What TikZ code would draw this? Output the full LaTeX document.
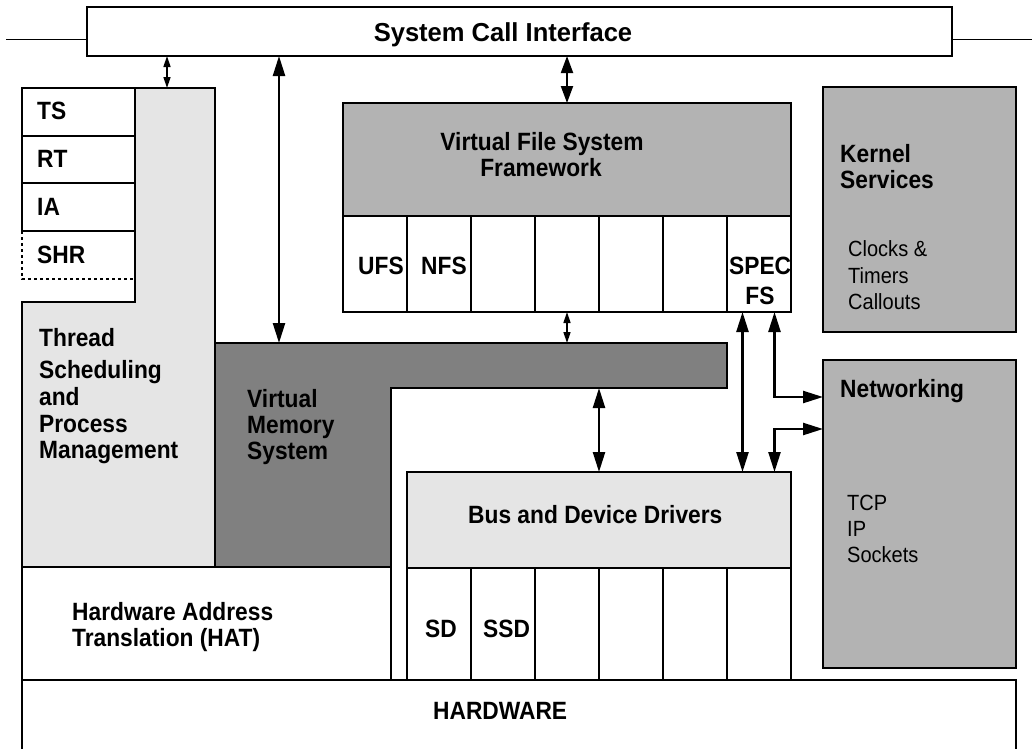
\documentclass[tikz,border=0pt]{standalone}
\usepackage{fontspec}
\setmainfont{Liberation Sans}[FakeStretch=0.91]
\usetikzlibrary{arrows.meta}

\definecolor{midgray}{HTML}{B3B3B3}
\definecolor{darkgray}{HTML}{808080}
\definecolor{lightgray}{HTML}{E5E5E5}

\newcommand\boldtxt{\fontsize{25}{27}\selectfont\bfseries}
\newcommand\plaintxt{\fontsize{22}{26}\selectfont}

\begin{document}
\begin{tikzpicture}[x=1pt,y=-1pt,
  box/.style={draw, line width=1.2pt, anchor=north west, inner sep=0pt, outer sep=0pt, fill=white},
  cell/.style={box, minimum width=64pt},
  lbl/.style={anchor=base west, inner sep=0pt, font=\boldtxt},
  clbl/.style={anchor=base, inner sep=0pt, font=\boldtxt},
  plbl/.style={anchor=base west, inner sep=0pt, font=\plaintxt},
  bigarr/.style={line width=2.4pt, {Triangle[length=20pt,width=12pt]}-{Triangle[length=20pt,width=12pt]}},
  midarr/.style={line width=2pt, {Triangle[length=17pt,width=12pt]}-{Triangle[length=17pt,width=12pt]}},
  smallarr/.style={line width=1.5pt, {Triangle[length=11pt,width=7pt]}-{Triangle[length=11pt,width=7pt]}}]

\clip (0,0) rectangle (1034,748);
\fill[white] (0,0) rectangle (1034,748);

% hardware and address translation layers
\node[box, minimum width=994pt, minimum height=80pt] (hw) at (22,680) {};
\node[box, minimum width=369pt, minimum height=113pt] (hat) at (22,567) {};

% thread scheduling block (L shape)
\coordinate (thrtop) at (167,88);
\draw[line width=2pt, fill=lightgray]
  (22,302) -- (135,302) -- (135,88) -- (215,88) -- (215,567) -- (22,567) -- cycle;

% virtual memory block (L shape)
\coordinate (vmtop) at (279,343);
\coordinate (vmin) at (391,388);
\draw[line width=1.2pt, fill=darkgray]
  (215,343) -- (727,343) -- (727,388) -- (vmin) -- (391,567) -- (215,567) -- cycle;

% scheduling classes
\node[box, minimum width=113pt, minimum height=48pt] (ts) at (22,88) {};
\node[box, minimum width=113pt, minimum height=47pt] (rt) at (22,136) {};
\node[box, minimum width=113pt, minimum height=48pt] (ia) at (22,183) {};
\draw[line width=1.2pt, dashed] (ia.south west) -- (22,279) -- (135,279);

% system call interface
\node[box, line width=2.6pt, minimum width=865pt, minimum height=49pt] (sci) at (87,7) {};
\draw[line width=1pt] ([yshift=-7.5pt]sci.west) -- (6,39);
\draw[line width=1pt] ([yshift=-7.5pt]sci.east) -- (1032,39);

% virtual file system and its file system types
\node[box, fill=midgray, minimum width=448pt, minimum height=113pt] (vfs) at (343,103) {};
\node[cell, minimum height=96pt] (ufs) at (343,216) {};
\node[cell, minimum height=96pt] (nfs) at (407,216) {};
\node[cell, minimum height=96pt] (vc3) at (471,216) {};
\node[cell, minimum height=96pt] (vc4) at (535,216) {};
\node[cell, minimum height=96pt] (vc5) at (599,216) {};
\node[cell, minimum height=96pt] (vc6) at (663,216) {};
\node[cell, minimum height=96pt] (spec) at (727,216) {};

% kernel services and networking
\node[box, fill=midgray, minimum width=193pt, minimum height=245pt] (ks) at (823,87) {};
\node[box, fill=midgray, minimum width=193pt, minimum height=308pt] (net) at (823,360) {};

% bus and device drivers
\node[box, fill=lightgray, minimum width=384pt, minimum height=96pt] (bus) at (407,472) {};
\node[cell, minimum height=112pt] (sd) at (407,568) {};
\node[cell, minimum height=112pt] (ssd) at (471,568) {};
\node[cell, minimum height=112pt] (bc3) at (535,568) {};
\node[cell, minimum height=112pt] (bc4) at (599,568) {};
\node[cell, minimum height=112pt] (bc5) at (663,568) {};
\node[cell, minimum height=112pt] (bc6) at (727,568) {};

% connectors
\draw[smallarr] (sci.south -| thrtop) -- (thrtop);
\draw[bigarr] (sci.south -| vmtop) -- (vmtop);
\draw[midarr] (sci.south -| vfs.north) -- (vfs.north);
\draw[smallarr] (vc4.south) -- (vc4.south |- vmtop);
\draw[bigarr] (bus.north |- vmin) -- (bus.north);
\draw[bigarr] ([xshift=-16.5pt]spec.south) -- ([xshift=-16.5pt]spec.south |- bus.north);
\draw[bigarr] ([xshift=15.5pt]spec.south) |- ([yshift=-37pt]net.north west);
\draw[bigarr] ([xshift=15.5pt]spec.south |- bus.north) |- ([yshift=-69pt]net.north west);

% labels
\node[clbl, font=\fontsize{26}{28}\selectfont\bfseries, xscale=1.08] (tsci) at (503,41) {System Call Interface};
\node[lbl] (tts) at (37,119) {TS};
\node[lbl] (trt) at (37,167) {RT};
\node[lbl] (tia) at (37,215) {IA};
\node[lbl] (tshr) at (37,263) {SHR};
\node[lbl] (tthr1) at (39,346) {Thread};
\node[lbl] (tthr2) at (39,378) {Scheduling};
\node[lbl] (tthr3) at (39,405) {and};
\node[lbl] (tthr4) at (39,432) {Process};
\node[lbl] (tthr5) at (39,458) {Management};
\node[lbl] (tvm1) at (247,407) {Virtual};
\node[lbl] (tvm2) at (247,433) {Memory};
\node[lbl] (tvm3) at (247,459) {System};
\node[clbl] (tvfs1) at (542,150) {Virtual File System};
\node[clbl] (tvfs2) at (541,176) {Framework};
\node[lbl] (tufs) at (358,274) {UFS};
\node[lbl] (tnfs) at (421,274) {NFS};
\node[lbl] (tspec1) at (729,274) {SPEC};
\node[clbl] (tspec2) at (760,304) {FS};
\node[lbl] (tks1) at (840,162) {Kernel};
\node[lbl] (tks2) at (840,188) {Services};
\node[plbl] (tks3) at (848,256) {Clocks \&};
\node[plbl] (tks4) at (848,283) {Timers};
\node[plbl] (tks5) at (848,309) {Callouts};
\node[lbl] (tnet) at (840,397) {Networking};
\node[plbl] (tnet1) at (847,510) {TCP};
\node[plbl] (tnet2) at (847,536) {IP};
\node[plbl] (tnet3) at (847,562) {Sockets};
\node[lbl] (tbus) at (468,523) {Bus and Device Drivers};
\node[lbl] (tsd) at (425,637) {SD};
\node[lbl] (tssd) at (483,637) {SSD};
\node[lbl] (that1) at (72,620) {Hardware Address};
\node[lbl] (that2) at (72,646) {Translation (HAT)};
\node[lbl] (thw) at (433,719) {HARDWARE};
\end{tikzpicture}
\end{document}
